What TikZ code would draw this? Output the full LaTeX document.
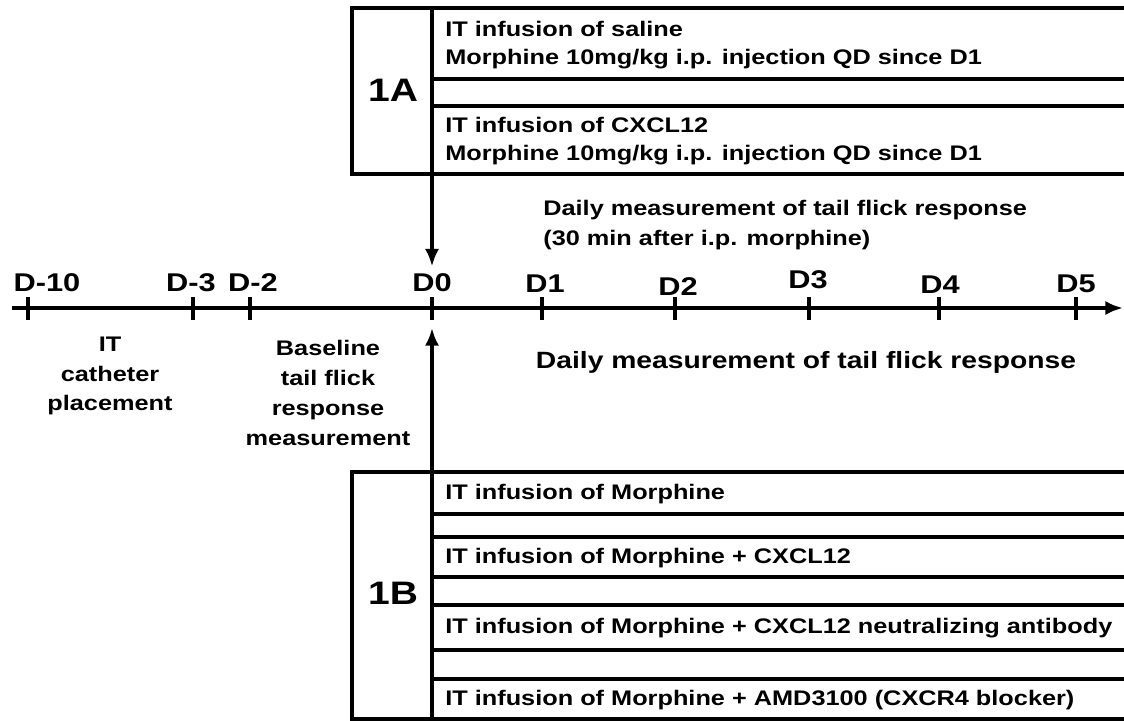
\documentclass[tikz,border=0pt]{standalone}
\usepackage{fontspec}
\setmainfont{Liberation Sans}[FakeStretch=1.2]
\usepackage{tikz}
\usetikzlibrary{arrows.meta, positioning}
\tikzstyle{frame} = [line width=2.2pt]
\tikzstyle{axis} = [line width=2.1pt]
\tikzstyle{day} = [font=\bfseries\fontsize{14.6}{16}\selectfont, inner sep=0pt]
\tikzstyle{group} = [font=\bfseries\fontsize{18.5}{20}\selectfont, inner sep=0pt]
\tikzstyle{rowtext} = [anchor=west, align=left, font=\bfseries\fontsize{12}{16}\selectfont, inner sep=0pt]
\tikzstyle{note} = [align=center, font=\bfseries\fontsize{12}{17}\selectfont, inner sep=0pt]
\tikzstyle{arrow} = [line width=2.1pt, -{Latex[length=10pt,width=8pt]}]

\begin{document}
\begin{tikzpicture}[x=0.02cm, y=-0.02cm]
    \useasboundingbox (0,0) rectangle (1124,720);

    % Group 1A
    \draw [frame] (1124,8) -- (352,8) -- (352,174) -- (1124,174);
    \draw [frame] (432,8) -- (432,174);
    \draw [frame] (432,79) -- (1124,79);
    \draw [frame] (432,106) -- (1124,106);
    \node (grpA) [group] at (393,90) {1A};
    \node (saline) [rowtext] at (445,45) {IT infusion of saline\\Morphine 10mg/kg i.p. injection QD since D1};
    \node (cxcl) [rowtext] at (445,141) {IT infusion of CXCL12\\Morphine 10mg/kg i.p. injection QD since D1};
    \coordinate (aBottom) at (432,174);

    % Daily measurement (top)
    \node (dailyTop) [rowtext, font=\bfseries\fontsize{12}{17}\selectfont] at (543,225) {Daily measurement of tail flick response\\(30 min after i.p. morphine)};

    % Time axis
    \coordinate (axisStart) at (12,308);
    \coordinate (axisEnd) at (1123,308);
    \draw [arrow] (axisStart) -- (axisEnd);
    \draw [axis] (28,297) -- (28,320);
    \draw [axis] (193,297) -- (193,320);
    \draw [axis] (250,297) -- (250,320);
    \draw [axis] (432,297) -- (432,320);
    \draw [axis] (542,297) -- (542,320);
    \draw [axis] (675,297) -- (675,320);
    \draw [axis] (809,297) -- (809,320);
    \draw [axis] (939,297) -- (939,320);
    \draw [axis] (1076,297) -- (1076,320);

    % Day labels
    \node (dm10) [day] at (47,283) {D-10};
    \node (dm3) [day] at (191,283) {D-3};
    \node (dm2) [day] at (253,283) {D-2};
    \node (d0) [day] at (432,283) {D0};
    \node (d1) [day] at (545,284) {D1};
    \node (d2) [day] at (678,287) {D2};
    \node (d3) [day] at (808,280) {D3};
    \node (d4) [day] at (940,285) {D4};
    \node (d5) [day] at (1076,284) {D5};

    % Notes below the axis
    \node (catheter) [note] at (110,376) {IT\\catheter\\placement};
    \node (baseline) [note] at (328,393) {Baseline\\tail flick\\response\\measurement};
    \node (dailyLow) [note, font=\bfseries\fontsize{13.4}{16}\selectfont] at (806,362) {Daily measurement of tail flick response};

    % Group 1B
    \draw [frame] (1124,472) -- (352,472) -- (352,719) -- (1124,719);
    \draw [frame] (432,472) -- (432,719);
    \draw [frame] (432,514) -- (1124,514);
    \draw [frame] (432,537) -- (1124,537);
    \draw [frame] (432,577) -- (1124,577);
    \draw [frame] (432,605) -- (1124,605);
    \draw [frame] (432,650) -- (1124,650);
    \draw [frame] (432,679) -- (1124,679);
    \node (grpB) [group] at (393,593) {1B};
    \node (morph) [rowtext] at (445,494) {IT infusion of Morphine};
    \node (morphCxcl) [rowtext] at (445,558) {IT infusion of Morphine + CXCL12};
    \node (morphAb) [rowtext] at (445,628) {IT infusion of Morphine + CXCL12 neutralizing antibody};
    \node (morphAmd) [rowtext] at (445,700) {IT infusion of Morphine + AMD3100 (CXCR4 blocker)};
    \coordinate (bTop) at (432,472);
    \coordinate (upTip) at (432,328);

    % Arrows
    \draw [arrow, shorten >=4pt] (aBottom) -- (d0.north);
    \draw [arrow] (bTop) -- (upTip);
\end{tikzpicture}
\end{document}
